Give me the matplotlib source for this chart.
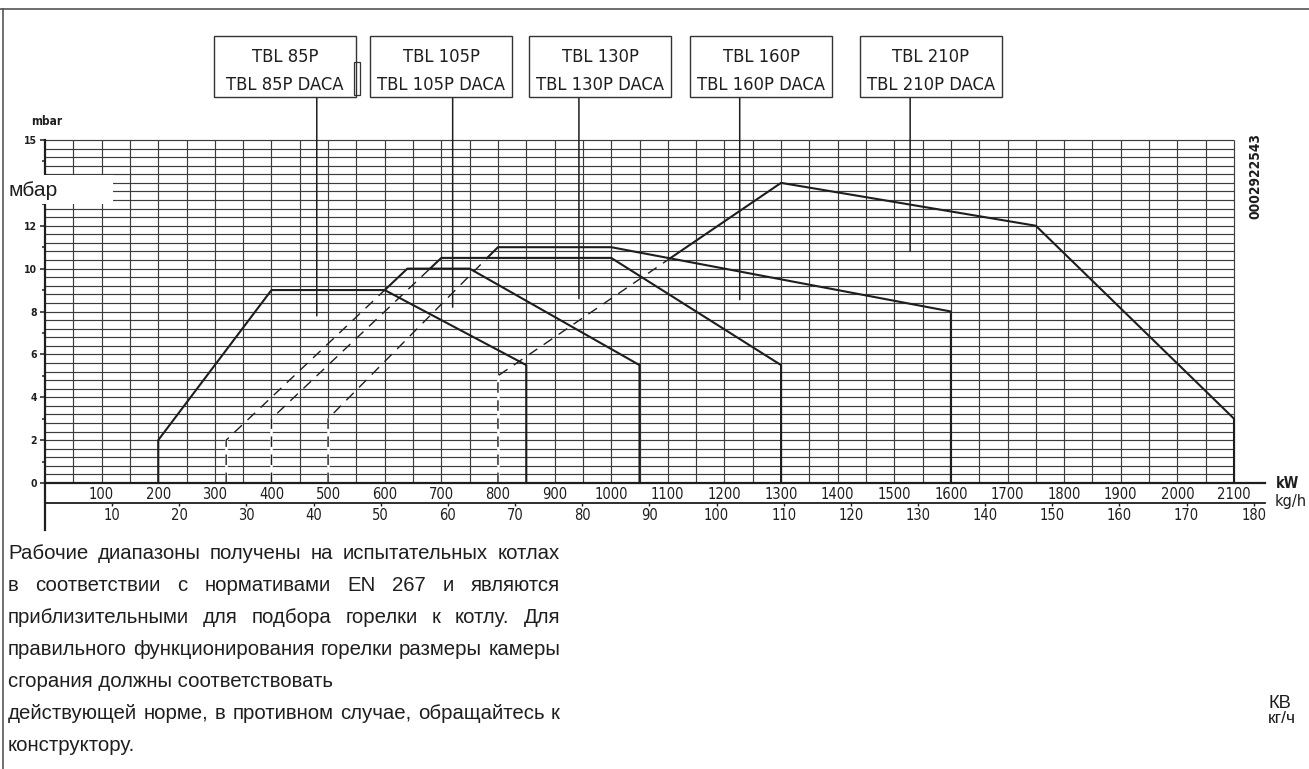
import matplotlib
matplotlib.use('Agg')
import matplotlib.pyplot as plt
import numpy as np
from matplotlib import font_manager
from matplotlib.font_manager import FontProperties
from matplotlib.patches import Rectangle
from matplotlib.lines import Line2D
from matplotlib.ticker import NullLocator

# ---------------- data ----------------
box_line1 = ['TBL 85P', 'TBL 105P', 'TBL 130P', 'TBL 160P', 'TBL 210P']
box_line2 = ['TBL 85P DACA', 'TBL 105P DACA', 'TBL 130P DACA', 'TBL 160P DACA', 'TBL 210P DACA']

# standard models: solid working-field outlines (kW, mbar)
kw_85 = [200, 200, 400, 600, 850, 850]
mbar_85 = [0, 2, 9, 9, 5.5, 0]
kw_105 = [600, 640, 750, 1050, 1050]
mbar_105 = [9, 10, 10, 5.5, 0]
kw_130 = [680, 700, 1000, 1300, 1300]
mbar_130 = [10, 10.5, 10.5, 5.5, 0]
kw_160 = [781, 800, 1000, 1600, 1600]
mbar_160 = [10.5, 11, 11, 8, 0]
kw_210 = [1104, 1300, 1750, 2100, 2100]
mbar_210 = [10.48, 14, 12, 3, 0]

# DACA versions: dashed extension of the lower range
daca_kw_105 = [320, 320, 600]
daca_mbar_105 = [0, 2, 9]
daca_kw_130 = [400, 400, 680]
daca_mbar_130 = [0, 3, 10]
daca_kw_160 = [500, 500, 781]
daca_mbar_160 = [0, 3, 10.5]
daca_kw_210 = [800, 800, 1104]
daca_mbar_210 = [0, 5, 10.48]

# leader line end points (kW, mbar)
leader_kw = [480, 720, 943, 1227, 1528]
leader_mbar = [7.8, 8.2, 8.6, 8.55, 10.8]

kw_ticks = list(range(100, 2101, 100))
kgh_ticks = list(range(10, 181, 10))
mbar_ticks = [0, 2, 4, 6, 8, 10, 12, 16]
mbar_tick_labels = ['0', '2', '4', '6', '8', '10', '12', '15']
mbar_minor_ticks = [1, 3, 5, 7, 9, 11, 13, 15]
KW_PER_KGH = 11.86
grid_kw_max = 2100
grid_mbar_max = 16

note_lines = [
    'Рабочие диапазоны получены на испытательных котлах',
    'в соответствии с нормативами EN 267 и являются',
    'приблизительными для подбора горелки к котлу. Для',
    'правильного функционирования горелки размеры камеры',
    'сгорания должны соответствовать',
    'действующей норме, в противном случае, обращайтесь к',
    'конструктору.',
]
note_justified = [True, True, True, True, False, True, False]

# ---------------- layout ----------------
W, H = 1309, 769
def fx(x):
    return x / W
def fy(y):
    return 1 - y / H

# pick a narrow / condensed sans if one is installed
def find_narrow(bold=False):
    best = None
    for f in font_manager.fontManager.ttflist:
        n = f.name.lower()
        fn = f.fname.lower()
        cond = ('narrow' in n or 'condensed' in n or 'narrow' in fn or 'condensed' in fn
                or str(f.stretch) in ('condensed', 'semi-condensed', 'extra-condensed'))
        if not cond or f.style != 'normal':
            continue
        w = f.weight if isinstance(f.weight, int) else (700 if 'bold' in str(f.weight) else 400)
        if (w >= 600) != bold:
            continue
        score = 0
        if 'liberation' in n:
            score = 3
        elif 'dejavu' in n:
            score = 2
        elif 'roboto' in n or 'open' in n or 'noto' in n:
            score = 1
        if 'extra' in fn or 'semi' in fn:
            score -= 0.5
        if best is None or score > best[0]:
            best = (score, f.fname)
    return best[1] if best else None

names = {f.name for f in font_manager.fontManager.ttflist}
SANS = 'Liberation Sans' if 'Liberation Sans' in names else 'DejaVu Sans'
nf = find_narrow(False)
nfb = find_narrow(True)
def NP(size, bold=False):
    fn = nfb if bold else nf
    if fn:
        return FontProperties(fname=fn, size=size)
    return FontProperties(family=SANS, size=size, weight='bold' if bold else 'normal')

plt.rcParams['lines.scale_dashes'] = False
INK = '#1e1e1e'
GRID = '#3c3c3c'

fig = plt.figure(figsize=(W / 100, H / 100), dpi=100)
fig.patch.set_facecolor('white')
renderer = fig.canvas.get_renderer()

def text_width(s, **kw):
    t = fig.text(0, 0, s, **kw)
    w = t.get_window_extent(renderer).width
    t.remove()
    return w

ax_l, ax_r, ax_t, ax_b = 45, 1265, 140, 483
ax = fig.add_axes([fx(ax_l), fy(ax_b), (ax_r - ax_l) / W, (ax_b - ax_t) / H])
ax.set_xlim(0, grid_kw_max * (ax_r - ax_l) / (1234 - ax_l))
ax.set_ylim(0, grid_mbar_max)
for s in ax.spines.values():
    s.set_visible(False)
ax.spines['bottom'].set_visible(True)
ax.spines['bottom'].set_linewidth(1.6)
ax.spines['bottom'].set_color(INK)
ax.spines['bottom'].set_zorder(5)
ax.patch.set_alpha(0)

# grid (only up to 2100 kW)
ax.vlines(np.arange(50, grid_kw_max + 0.1, 50), 0, grid_mbar_max, color=GRID, lw=0.85, zorder=1,
          clip_on=False)
ax.hlines(np.arange(0.4, grid_mbar_max + 0.01, 0.4), 0, grid_kw_max, color=GRID, lw=0.85, zorder=1,
          clip_on=False)

# DACA dashed parts
for k, m in [(daca_kw_105, daca_mbar_105), (daca_kw_130, daca_mbar_130),
             (daca_kw_160, daca_mbar_160), (daca_kw_210, daca_mbar_210)]:
    ax.plot(k[:2], m[:2], color='white', lw=1.8, zorder=2)
    ax.plot(k, m, color=INK, lw=1.0, ls=(0, (7.5, 5.5)), zorder=3)

# solid outlines
for k, m in [(kw_85, mbar_85), (kw_105, mbar_105), (kw_130, mbar_130),
             (kw_160, mbar_160), (kw_210, mbar_210)]:
    ax.plot(k, m, color=INK, lw=1.5, zorder=4, clip_on=False)

# y ticks
ax.set_yticks(mbar_ticks, mbar_tick_labels)
ax.set_yticks(mbar_minor_ticks, minor=True)
ax.tick_params(axis='y', which='major', direction='out', length=3.6, width=1.1,
               pad=2, colors=INK)
ax.tick_params(axis='y', which='minor', direction='out', length=2.5, width=1.1, colors=INK)
for t in ax.get_yticklabels():
    t.set_fontproperties(NP(7.5, bold=True))

# kW ticks
ax.set_xticks(kw_ticks)
ax.xaxis.set_minor_locator(NullLocator())
ax.tick_params(axis='x', which='major', length=0, pad=3.0, colors=INK)
for t in ax.get_xticklabels():
    t.set_fontproperties(NP(10.5))

# kg/h secondary axis
kgh_off = -20 / (ax_b - ax_t)
sec = ax.secondary_xaxis(kgh_off, functions=(lambda k: np.asarray(k) / KW_PER_KGH,
                                              lambda g: np.asarray(g) * KW_PER_KGH))
sec.set_xticks(kgh_ticks)
for s in sec.spines.values():
    s.set_visible(False)
sec.spines['bottom'].set_visible(True)
sec.spines['bottom'].set_linewidth(1.3)
sec.spines['bottom'].set_color(INK)
sec.tick_params(axis='x', direction='out', length=2.5, width=1, pad=1, colors=INK)
for t in sec.get_xticklabels():
    t.set_fontproperties(NP(10.5))

# y axis line, extended below the kg/h scale
ax.add_line(Line2D([0, 0], [(ax_b - 530) / (ax_b - ax_t), 1], transform=ax.transAxes,
                   color=INK, lw=1.6, clip_on=False, zorder=5))

# boxes with model names
box_left = [214, 370, 529, 690, 860]
box_w = 142
box_top, box_bottom = 36, 97
ref_w = 128.0
fs_box = 10 * ref_w / text_width('TBL 105P DACA', fontproperties=NP(10))
for i in range(5):
    l = box_left[i]
    fig.add_artist(Rectangle((fx(l), fy(box_bottom)), box_w / W, (box_bottom - box_top) / H,
                             transform=fig.transFigure, fc='white', ec='#333333', lw=1.0, zorder=6))
    cx = l + box_w / 2
    fig.text(fx(cx), fy(62.5), box_line1[i], ha='center', va='baseline',
             fontproperties=NP(fs_box), color=INK, zorder=7)
    fig.text(fx(cx), fy(89.5), box_line2[i], ha='center', va='baseline',
             fontproperties=NP(fs_box), color=INK, zorder=7)
    ax.annotate('', xy=(leader_kw[i], leader_mbar[i]), xycoords='data',
                xytext=(leader_kw[i], fy(box_bottom)), textcoords=('data', 'figure fraction'),
                arrowprops=dict(arrowstyle='-', color=INK, lw=1.1, shrinkA=0, shrinkB=0),
                annotation_clip=False, zorder=3)
# small bracket beside the first box
fig.add_artist(Rectangle((fx(354), fy(95)), 6 / W, 33 / H, transform=fig.transFigure,
                         fc='none', ec='#333333', lw=0.9, zorder=6))

# axis captions
fig.text(fx(31), fy(125), 'mbar', ha='left', va='baseline', fontproperties=NP(8.5, bold=True),
         color=INK)
fig.text(fx(1276), fy(488), 'kW', ha='left', va='baseline', fontproperties=NP(10.5, bold=True),
         color=INK)
fig.text(fx(1275), fy(506), 'kg/h', ha='left', va='baseline', fontsize=10.5,
         family='DejaVu Sans', color=INK)

# text body size calibrated on the un-justified line
fs_body = 14 * 329.0 / text_width(note_lines[4], fontsize=14, family=SANS)

# white patch with Russian unit
fig.add_artist(Rectangle((fx(4), fy(204)), 109 / W, 29 / H, transform=fig.transFigure,
                         fc='white', ec='none', zorder=8))
fig.text(fx(8), fy(196), 'мбар', ha='left', va='baseline', fontsize=fs_body * 1.03,
         family=SANS, color=INK, zorder=9)

# drawing number
fig.text(fx(1255), fy(176), '0002922543', rotation=90, ha='center', va='center',
         fontproperties=NP(9.8, bold=True), color=INK)

# right-hand Russian units
fig.text(fx(1269), fy(708), 'КВ', ha='left', va='baseline', fontsize=fs_body * 0.9,
         family=SANS, color=INK)
fig.text(fx(1268), fy(723), 'кг/ч', ha='left', va='baseline', fontsize=fs_body * 0.85,
         family=SANS, color=INK)

# frame lines
fig.add_artist(Line2D([0, 1], [fy(9), fy(9)], transform=fig.transFigure, color='#555555',
                      lw=1.2, zorder=10))
fig.add_artist(Line2D([fx(3), fx(3)], [fy(9), 0], transform=fig.transFigure, color='#555555',
                      lw=1.2, zorder=10))

# bottom note, justified like the reference
left_px, right_px = 8, 560
for i, line in enumerate(note_lines):
    base = 559 + 32 * i
    if note_justified[i]:
        words = line.split(' ')
        widths = [text_width(w_, fontsize=fs_body, family=SANS) for w_ in words]
        gap = (right_px - left_px - sum(widths)) / (len(words) - 1)
        x = left_px
        for w_, ww in zip(words, widths):
            fig.text(fx(x), fy(base), w_, ha='left', va='baseline', fontsize=fs_body,
                     family=SANS, color=INK)
            x += ww + gap
    else:
        fig.text(fx(left_px), fy(base), line, ha='left', va='baseline', fontsize=fs_body,
                 family=SANS, color=INK)

fig.savefig('out.png', dpi=100)
